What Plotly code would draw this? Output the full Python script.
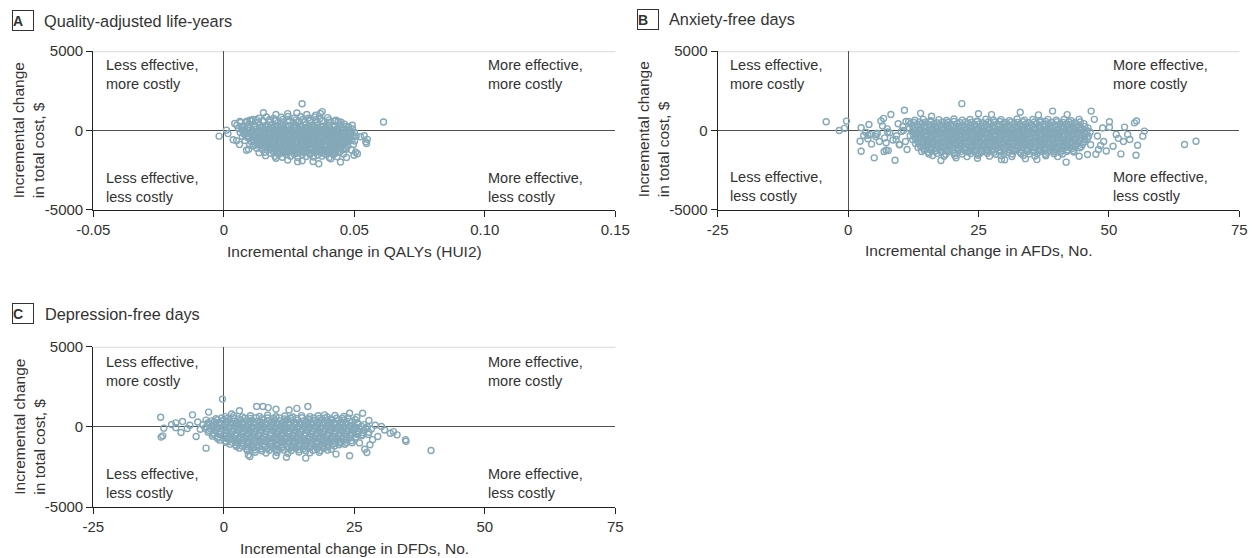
import plotly.graph_objects as go

# ---------------- data ----------------
# Panel A: incremental QALYs (HUI2) vs incremental total cost ($)
qaly_points = [
    (0.0300, 1680), (0.0152, 1120), (0.0377, 1190), (0.0370, 1070), (0.0318, 1010),
    (0.0612, 530), (-0.0018, -360), (0.0010, 20), (0.0036, -590), (0.0049, -650),
    (0.0016, -200), (0.0042, 440), (0.0064, 500), (0.0524, -400), (0.0538, -330),
    (0.0544, -720), (0.0550, -560), (0.0547, -820), (0.0492, 330), (0.0499, -1560),
    (0.0512, -1470), (0.0505, -1380), (0.0447, -1990), (0.0364, -2100), (0.0342, -1960),
    (0.0300, -1910), (0.0283, -1970), (0.0245, -1860), (0.0410, -1790), (0.0087, -1250),
    (0.0095, -1180), (0.0112, -980), (0.0060, -880), (0.0135, -1400), (0.0160, -1590),
    (0.0200, 1010), (0.0245, 1060), (0.0352, 960), (0.0280, 1100), (0.0438, 560),
    (0.0462, 400), (0.0478, 240), (0.0088, 590), (0.0112, 700), (0.0470, -1700),
    (0.0200, -1750),
    (0.0135, 780), (0.0163, 850), (0.0191, 750), (0.0220, 830), (0.0246, 880), (0.0271, 790),
    (0.0294, 860), (0.0323, 770), (0.0347, 840), (0.0369, 750), (0.0398, 810),
    (0.0062, 560), (0.0086, 500), (0.0107, 600), (0.0132, 520), (0.0151, 590), (0.0176, 530),
    (0.0196, 610), (0.0221, 540), (0.0244, 590), (0.0266, 500), (0.0287, 580), (0.0311, 530),
    (0.0332, 610), (0.0357, 520), (0.0377, 570), (0.0403, 500), (0.0424, 590), (0.0449, 520),
    (0.0050, 330), (0.0073, 270), (0.0094, 360), (0.0118, 300), (0.0139, 350), (0.0161, 280),
    (0.0181, 340), (0.0205, 300), (0.0227, 370), (0.0247, 280), (0.0271, 330), (0.0291, 290),
    (0.0315, 350), (0.0335, 280), (0.0359, 340), (0.0381, 270), (0.0401, 350), (0.0425, 300),
    (0.0445, 340), (0.0469, 260),
    (0.0056, 120), (0.0079, 50), (0.0099, 140), (0.0123, 80), (0.0143, 120), (0.0167, 40),
    (0.0187, 130), (0.0211, 70), (0.0231, 120), (0.0255, 50), (0.0275, 130), (0.0299, 80),
    (0.0319, 110), (0.0343, 50), (0.0363, 130), (0.0387, 60), (0.0407, 120), (0.0431, 50),
    (0.0451, 100), (0.0475, 30), (0.0493, 90),
    (0.0063, -130), (0.0085, -190), (0.0105, -110), (0.0129, -170), (0.0149, -120), (0.0173, -200),
    (0.0193, -130), (0.0217, -170), (0.0237, -100), (0.0261, -180), (0.0281, -130), (0.0305, -160),
    (0.0325, -110), (0.0349, -190), (0.0369, -130), (0.0393, -170), (0.0413, -120), (0.0437, -180),
    (0.0457, -130), (0.0481, -170), (0.0501, -140),
    (0.0071, -380), (0.0091, -440), (0.0115, -370), (0.0135, -420), (0.0159, -360), (0.0179, -440),
    (0.0203, -380), (0.0223, -420), (0.0247, -360), (0.0267, -430), (0.0291, -380), (0.0311, -410),
    (0.0335, -350), (0.0355, -440), (0.0379, -380), (0.0399, -420), (0.0423, -370), (0.0443, -430),
    (0.0467, -380), (0.0487, -420), (0.0507, -360),
    (0.0081, -630), (0.0105, -690), (0.0125, -620), (0.0149, -670), (0.0169, -600), (0.0193, -690),
    (0.0213, -630), (0.0237, -670), (0.0257, -610), (0.0281, -680), (0.0301, -630), (0.0325, -660),
    (0.0345, -600), (0.0369, -690), (0.0389, -630), (0.0413, -670), (0.0433, -620), (0.0457, -680),
    (0.0477, -630), (0.0501, -670),
    (0.0099, -880), (0.0121, -940), (0.0145, -870), (0.0165, -920), (0.0189, -850), (0.0209, -940),
    (0.0233, -880), (0.0253, -920), (0.0277, -860), (0.0297, -930), (0.0321, -880), (0.0341, -910),
    (0.0365, -850), (0.0385, -940), (0.0409, -880), (0.0429, -920), (0.0453, -870), (0.0473, -930),
    (0.0497, -880),
    (0.0126, -1130), (0.0147, -1190), (0.0172, -1120), (0.0193, -1170), (0.0218, -1100), (0.0239, -1190),
    (0.0264, -1130), (0.0285, -1170), (0.0310, -1110), (0.0331, -1180), (0.0356, -1130), (0.0377, -1160),
    (0.0402, -1100), (0.0423, -1190), (0.0448, -1130), (0.0469, -1170), (0.0489, -1230),
    (0.0156, -1380), (0.0179, -1440), (0.0206, -1370), (0.0229, -1420), (0.0256, -1350), (0.0279, -1440),
    (0.0306, -1380), (0.0329, -1420), (0.0356, -1360), (0.0379, -1430), (0.0406, -1380), (0.0429, -1420),
    (0.0459, -1480),
    (0.0196, -1630), (0.0224, -1690), (0.0256, -1620), (0.0284, -1700), (0.0316, -1640), (0.0344, -1680),
    (0.0376, -1620), (0.0404, -1700), (0.0434, -1660),
    (0.0120, 200), (0.0150, 230), (0.0180, 190), (0.0210, 210), (0.0240, 180), (0.0270, 220),
    (0.0300, 200), (0.0330, 170), (0.0360, 210), (0.0390, 180), (0.0420, 200),
    (0.0110, -20), (0.0140, -40), (0.0170, 0), (0.0200, -60), (0.0230, -20), (0.0260, -50),
    (0.0290, 0), (0.0320, -40), (0.0350, -10), (0.0380, -60), (0.0410, -30), (0.0440, 0),
    (0.0120, -280), (0.0150, -300), (0.0180, -250), (0.0210, -290), (0.0240, -270), (0.0270, -310),
    (0.0300, -260), (0.0330, -290), (0.0360, -250), (0.0390, -300), (0.0420, -270), (0.0450, -290),
    (0.0140, -520), (0.0170, -540), (0.0200, -500), (0.0230, -550), (0.0260, -510), (0.0290, -540),
    (0.0320, -500), (0.0350, -530), (0.0380, -520), (0.0410, -550), (0.0440, -500), (0.0470, -530),
    (0.0160, -770), (0.0190, -790), (0.0220, -750), (0.0250, -780), (0.0280, -760), (0.0310, -800),
    (0.0340, -760), (0.0370, -780), (0.0400, -750), (0.0430, -790), (0.0460, -770),
    (0.0180, -1020), (0.0210, -1040), (0.0240, -1000), (0.0270, -1030), (0.0300, -1010),
    (0.0330, -1050), (0.0360, -1000), (0.0390, -1030), (0.0420, -1020),
    (0.0210, -1270), (0.0240, -1290), (0.0270, -1250), (0.0300, -1280), (0.0330, -1260),
    (0.0360, -1300), (0.0390, -1270),
    (0.0100, 640), (0.0125, 680), (0.0150, 620), (0.0176, 690), (0.0201, 650), (0.0226, 700),
    (0.0252, 630), (0.0277, 670), (0.0302, 690), (0.0328, 640), (0.0353, 680), (0.0378, 620),
    (0.0404, 670), (0.0430, 640),
    (0.0068, 250), (0.0093, 230), (0.0119, 270), (0.0144, 240), (0.0170, 260), (0.0195, 220),
    (0.0221, 270), (0.0246, 240), (0.0272, 250), (0.0297, 230), (0.0323, 270), (0.0348, 240),
    (0.0374, 260), (0.0399, 230), (0.0425, 250), (0.0450, 220),
    (0.0070, 30), (0.0095, 10), (0.0121, 50), (0.0146, 20), (0.0172, 40), (0.0197, 0),
    (0.0223, 50), (0.0248, 20), (0.0274, 30), (0.0299, 10), (0.0325, 50), (0.0350, 20),
    (0.0376, 40), (0.0401, 0), (0.0427, 30), (0.0452, 10), (0.0478, -20),
    (0.0082, -90), (0.0108, -70), (0.0133, -110), (0.0159, -80), (0.0184, -100), (0.0210, -60),
    (0.0235, -110), (0.0261, -80), (0.0286, -90), (0.0312, -70), (0.0337, -110), (0.0363, -80),
    (0.0388, -100), (0.0414, -60), (0.0439, -90), (0.0465, -70), (0.0490, -110),
    (0.0077, -210), (0.0102, -230), (0.0128, -190), (0.0153, -220), (0.0179, -200), (0.0204, -240),
    (0.0230, -190), (0.0255, -220), (0.0281, -210), (0.0306, -230), (0.0332, -190), (0.0357, -220),
    (0.0383, -200), (0.0408, -240), (0.0434, -210), (0.0459, -230), (0.0485, -190),
    (0.0090, -340), (0.0116, -320), (0.0141, -360), (0.0167, -330), (0.0192, -350), (0.0218, -310),
    (0.0243, -360), (0.0269, -330), (0.0294, -340), (0.0320, -320), (0.0345, -360), (0.0371, -330),
    (0.0396, -350), (0.0422, -310), (0.0447, -340), (0.0473, -320), (0.0496, -360),
    (0.0098, -460), (0.0124, -480), (0.0149, -440), (0.0175, -470), (0.0200, -450), (0.0226, -490),
    (0.0251, -440), (0.0277, -470), (0.0302, -460), (0.0328, -480), (0.0353, -440), (0.0379, -470),
    (0.0404, -450), (0.0430, -490), (0.0455, -460), (0.0481, -480),
    (0.0110, -590), (0.0136, -570), (0.0161, -610), (0.0187, -580), (0.0212, -600), (0.0238, -560),
    (0.0263, -610), (0.0289, -580), (0.0314, -590), (0.0340, -570), (0.0365, -610), (0.0391, -580),
    (0.0416, -600), (0.0442, -560), (0.0467, -590), (0.0490, -610),
    (0.0118, -710), (0.0144, -730), (0.0169, -690), (0.0195, -720), (0.0220, -700), (0.0246, -740),
    (0.0271, -690), (0.0297, -720), (0.0322, -710), (0.0348, -730), (0.0373, -690), (0.0399, -720),
    (0.0424, -700), (0.0450, -740), (0.0475, -710),
    (0.0130, -840), (0.0156, -820), (0.0181, -860), (0.0207, -830), (0.0232, -850), (0.0258, -810),
    (0.0283, -860), (0.0309, -830), (0.0334, -840), (0.0360, -820), (0.0385, -860), (0.0411, -830),
    (0.0436, -850), (0.0462, -810),
    (0.0142, -960), (0.0168, -980), (0.0193, -940), (0.0219, -970), (0.0244, -950), (0.0270, -990),
    (0.0295, -940), (0.0321, -970), (0.0346, -960), (0.0372, -980), (0.0397, -940), (0.0423, -970),
    (0.0448, -950), (0.0474, -990),
    (0.0160, -1090), (0.0186, -1070), (0.0211, -1110), (0.0237, -1080), (0.0262, -1100),
    (0.0288, -1060), (0.0313, -1110), (0.0339, -1080), (0.0364, -1090), (0.0390, -1070),
    (0.0415, -1110), (0.0441, -1080), (0.0466, -1100),
    (0.0175, -1210), (0.0200, -1230), (0.0226, -1190), (0.0251, -1220), (0.0277, -1200),
    (0.0302, -1240), (0.0328, -1190), (0.0353, -1220), (0.0379, -1210), (0.0404, -1230),
    (0.0430, -1190), (0.0455, -1220),
    (0.0190, -1340), (0.0216, -1320), (0.0241, -1360), (0.0267, -1330), (0.0292, -1350),
    (0.0318, -1310), (0.0343, -1360), (0.0369, -1330), (0.0394, -1340), (0.0420, -1320),
    (0.0445, -1360),
    (0.0210, -1520), (0.0240, -1540), (0.0270, -1500), (0.0300, -1530), (0.0330, -1510),
    (0.0360, -1550), (0.0390, -1500), (0.0420, -1530),
]

# Panel B: incremental anxiety-free days vs incremental total cost ($)
afd_points = [
    (-4.2, 550), (-1.7, 0), (-0.7, 130), (-0.3, 590), (2.5, 170), (2.3, -680), (2.5, -1310),
    (3.0, -320), (3.4, -120), (3.8, -520), (4.2, -250), (4.5, -860), (5.0, -1730), (5.3, -380),
    (5.6, -180), (6.0, -700), (6.3, 600), (6.6, 280), (6.9, -1330), (7.3, -1250), (7.7, -1270),
    (7.0, -470), (7.5, 100), (8.2, 1010), (8.0, -150), (8.6, -600), (9.0, -1880), (9.3, -330),
    (9.6, 420), (9.9, -900), (10.2, -60), (10.5, 250), (10.8, 1270), (11.0, -700), (11.3, -1200),
    (11.6, 560), (4.0, 380), (6.8, 760), (3.8, -300), (5.4, -250), (7.3, -780), (7.6, -100),
    (9.2, -570), (9.8, -890), (10.6, 0), (11.1, 560),
    (46.6, 1220), (47.2, 700), (50.1, 545), (54.9, 480), (55.3, 600), (56.8, -40), (56.5, -360),
    (52.3, -1480), (55.2, -1560), (55.5, -930), (54.0, -570), (64.5, -890), (66.7, -680),
    (51.4, -250), (53.0, 210), (50.1, 200), (44.3, -1630), (45.9, -1520), (48.0, -1200),
    (49.0, -700), (47.8, -350), (48.8, 150), (50.8, -1000), (52.8, -700), (47.5, -1500),
    (49.5, -1300), (53.6, -250), (46.5, -900), (48.4, -950), (51.8, -500),
    (41.8, -2000), (36.2, -1840), (29.4, -1840), (30.0, -1850), (20.7, -1730), (17.8, -1900),
    (21.8, 1690), (39.2, 1220), (25.0, 1050), (13.9, 1080), (27.5, 1000), (33.0, 1150),
    (36.5, 980), (42.0, 1000), (16.0, 900), (24.8, -1750), (34.0, -1780),
    (12.8, 640), (14.4, 700), (15.8, 610), (17.4, 680), (18.9, 630), (20.3, 720), (21.9, 650),
    (23.4, 690), (24.8, 600), (26.4, 710), (27.9, 640), (29.3, 680), (30.9, 620), (32.4, 720),
    (33.8, 650), (35.4, 690), (36.9, 610), (38.3, 700), (39.9, 640), (41.4, 690), (42.8, 620),
    (44.3, 700),
    (12.0, 420), (13.2, 370), (14.2, 440), (15.4, 380), (16.4, 410), (17.6, 360), (18.7, 430),
    (19.7, 390), (20.9, 420), (21.9, 350), (23.1, 440), (24.2, 380), (25.2, 410), (26.4, 370),
    (27.4, 430), (28.6, 390), (29.7, 420), (30.7, 360), (31.9, 440), (32.9, 380), (34.1, 410),
    (35.2, 370), (36.2, 430), (37.4, 390), (38.4, 420), (39.6, 360), (40.7, 440), (41.7, 380),
    (42.9, 410), (43.9, 370), (45.2, 430),
    (11.8, 130), (12.8, 180), (14.0, 110), (15.0, 170), (16.2, 140), (17.2, 190), (18.4, 120),
    (19.4, 160), (20.6, 130), (21.6, 180), (22.8, 100), (23.8, 170), (25.0, 140), (26.0, 190),
    (27.2, 120), (28.2, 160), (29.4, 130), (30.4, 180), (31.6, 110), (32.6, 170), (33.8, 140),
    (34.8, 190), (36.0, 120), (37.0, 160), (38.2, 130), (39.2, 180), (40.4, 110), (41.4, 170),
    (42.6, 140), (43.6, 190), (44.8, 120), (46.0, 160),
    (12.3, -80), (13.4, -130), (14.5, -60), (15.6, -120), (16.7, -90), (17.8, -140), (18.9, -70),
    (20.0, -110), (21.1, -80), (22.2, -130), (23.3, -50), (24.4, -120), (25.5, -90), (26.6, -140),
    (27.7, -70), (28.8, -110), (29.9, -80), (31.0, -130), (32.1, -60), (33.2, -120), (34.3, -90),
    (35.4, -140), (36.5, -70), (37.6, -110), (38.7, -80), (39.8, -130), (40.9, -60), (42.0, -120),
    (43.1, -90), (44.2, -140), (45.3, -70), (46.4, -110),
    (11.9, -330), (13.0, -380), (14.1, -310), (15.1, -370), (16.3, -340), (17.3, -390), (18.5, -320),
    (19.5, -360), (20.7, -330), (21.7, -380), (22.9, -300), (23.9, -370), (25.1, -340), (26.1, -390),
    (27.3, -320), (28.3, -360), (29.5, -330), (30.5, -380), (31.7, -310), (32.7, -370), (33.9, -340),
    (34.9, -390), (36.1, -320), (37.1, -360), (38.3, -330), (39.3, -380), (40.5, -310), (41.5, -370),
    (42.7, -340), (43.7, -390), (44.9, -320), (46.1, -360),
    (12.4, -580), (13.5, -630), (14.6, -560), (15.7, -620), (16.8, -590), (17.9, -640), (19.0, -570),
    (20.1, -610), (21.2, -580), (22.3, -630), (23.4, -550), (24.5, -620), (25.6, -590), (26.7, -640),
    (27.8, -570), (28.9, -610), (30.0, -580), (31.1, -630), (32.2, -560), (33.3, -620), (34.4, -590),
    (35.5, -640), (36.6, -570), (37.7, -610), (38.8, -580), (39.9, -630), (41.0, -560), (42.1, -620),
    (43.2, -590), (44.3, -640), (45.4, -570),
    (12.9, -830), (14.0, -880), (15.1, -810), (16.1, -870), (17.3, -840), (18.3, -890), (19.5, -820),
    (20.5, -860), (21.7, -830), (22.7, -880), (23.9, -800), (24.9, -870), (26.1, -840), (27.1, -890),
    (28.3, -820), (29.3, -860), (30.5, -830), (31.5, -880), (32.7, -810), (33.7, -870), (34.9, -840),
    (35.9, -890), (37.1, -820), (38.1, -860), (39.3, -830), (40.3, -880), (41.5, -810), (42.5, -870),
    (43.7, -840), (44.9, -890),
    (13.4, -1080), (14.5, -1130), (15.6, -1060), (16.7, -1120), (17.8, -1090), (18.9, -1140),
    (20.0, -1070), (21.1, -1110), (22.2, -1080), (23.3, -1130), (24.4, -1050), (25.5, -1120),
    (26.6, -1090), (27.7, -1140), (28.8, -1070), (29.9, -1110), (31.0, -1080), (32.1, -1130),
    (33.2, -1060), (34.3, -1120), (35.4, -1090), (36.5, -1140), (37.6, -1070), (38.7, -1110),
    (39.8, -1080), (40.9, -1130), (42.0, -1060), (43.1, -1120), (44.4, -1090),
    (14.1, -1330), (15.4, -1380), (16.6, -1310), (17.9, -1370), (19.2, -1340), (20.4, -1390),
    (21.7, -1320), (23.0, -1360), (24.2, -1330), (25.5, -1380), (26.8, -1310), (28.0, -1370),
    (29.3, -1340), (30.6, -1390), (31.8, -1320), (33.1, -1360), (34.4, -1330), (35.6, -1380),
    (36.9, -1310), (38.2, -1370), (39.4, -1340), (40.7, -1390), (42.0, -1320), (43.3, -1360),
    (16.2, -1580), (18.4, -1630), (20.5, -1600), (22.8, -1650), (24.9, -1570), (27.1, -1620),
    (29.3, -1590), (31.4, -1640), (33.6, -1580), (35.8, -1610), (37.9, -1600), (40.2, -1650),
    (14.6, 280), (16.8, 260), (19.0, 300), (21.2, 250), (23.4, 290), (25.6, 270), (27.8, 300),
    (30.0, 250), (32.2, 280), (34.4, 260), (36.6, 300), (38.8, 270), (41.0, 290), (43.2, 250),
    (13.6, 20), (15.8, 0), (18.0, 40), (20.2, -10), (22.4, 30), (24.6, 10), (26.8, 40),
    (29.0, -20), (31.2, 20), (33.4, 0), (35.6, 30), (37.8, -10), (40.0, 20), (42.2, 0), (44.4, 30),
    (13.0, -220), (15.2, -240), (17.4, -200), (19.6, -250), (21.8, -210), (24.0, -230), (26.2, -200),
    (28.4, -250), (30.6, -220), (32.8, -240), (35.0, -200), (37.2, -230), (39.4, -210), (41.6, -250),
    (43.8, -220),
    (13.5, -470), (15.7, -490), (17.9, -450), (20.1, -500), (22.3, -460), (24.5, -480), (26.7, -450),
    (28.9, -500), (31.1, -470), (33.3, -490), (35.5, -450), (37.7, -480), (39.9, -460), (42.1, -500),
    (44.3, -470),
    (14.0, -720), (16.2, -740), (18.4, -700), (20.6, -750), (22.8, -710), (25.0, -730), (27.2, -700),
    (29.4, -750), (31.6, -720), (33.8, -740), (36.0, -700), (38.2, -730), (40.4, -710), (42.6, -750),
    (15.0, -970), (17.2, -990), (19.4, -950), (21.6, -1000), (23.8, -960), (26.0, -980), (28.2, -950),
    (30.4, -1000), (32.6, -970), (34.8, -990), (37.0, -950), (39.2, -980), (41.4, -960),
    (16.0, -1220), (18.6, -1240), (21.2, -1200), (23.8, -1250), (26.4, -1210), (29.0, -1230),
    (31.6, -1200), (34.2, -1250), (36.8, -1220), (39.4, -1240), (42.0, -1210),
    (12.6, 500), (13.7, 540), (14.8, 510), (15.9, 550), (17.0, 490), (18.1, 530), (19.2, 520),
    (20.3, 560), (21.4, 500), (22.5, 540), (23.6, 510), (24.7, 550), (25.8, 490), (26.9, 530),
    (28.0, 520), (29.1, 560), (30.2, 500), (31.3, 540), (32.4, 510), (33.5, 550), (34.6, 490),
    (35.7, 530), (36.8, 520), (37.9, 560), (39.0, 500), (40.1, 540), (41.2, 510), (42.3, 550),
    (43.4, 490), (44.5, 530),
    (12.4, 240), (13.5, 270), (14.6, 230), (15.7, 260), (16.8, 220), (17.9, 250), (19.0, 240),
    (20.1, 280), (21.2, 230), (22.3, 260), (23.4, 220), (24.5, 270), (25.6, 240), (26.7, 250),
    (27.8, 230), (28.9, 270), (30.0, 220), (31.1, 260), (32.2, 240), (33.3, 280), (34.4, 230),
    (35.5, 250), (36.6, 220), (37.7, 270), (38.8, 240), (39.9, 260), (41.0, 230), (42.1, 280),
    (43.2, 220), (44.3, 250), (45.4, 240),
    (12.8, -10), (13.9, 20), (15.0, -30), (16.1, 10), (17.2, -20), (18.3, 30), (19.4, -10),
    (20.5, 0), (21.6, -30), (22.7, 20), (23.8, -20), (24.9, 10), (26.0, -10), (27.1, 30),
    (28.2, -30), (29.3, 0), (30.4, -10), (31.5, 20), (32.6, -20), (33.7, 10), (34.8, -30),
    (35.9, 30), (37.0, -10), (38.1, 0), (39.2, -20), (40.3, 20), (41.4, -30), (42.5, 10),
    (43.6, -10), (44.7, 30), (45.8, -20),
    (12.5, -260), (13.6, -230), (14.7, -280), (15.8, -250), (16.9, -270), (18.0, -240),
    (19.1, -260), (20.2, -220), (21.3, -280), (22.4, -250), (23.5, -270), (24.6, -230),
    (25.7, -260), (26.8, -240), (27.9, -280), (29.0, -250), (30.1, -270), (31.2, -220),
    (32.3, -260), (33.4, -240), (34.5, -280), (35.6, -250), (36.7, -270), (37.8, -230),
    (38.9, -260), (40.0, -240), (41.1, -280), (42.2, -250), (43.3, -270), (44.4, -230),
    (45.5, -260),
    (12.9, -510), (14.0, -480), (15.1, -530), (16.2, -500), (17.3, -520), (18.4, -490),
    (19.5, -510), (20.6, -470), (21.7, -530), (22.8, -500), (23.9, -520), (25.0, -480),
    (26.1, -510), (27.2, -490), (28.3, -530), (29.4, -500), (30.5, -520), (31.6, -470),
    (32.7, -510), (33.8, -490), (34.9, -530), (36.0, -500), (37.1, -520), (38.2, -480),
    (39.3, -510), (40.4, -490), (41.5, -530), (42.6, -500), (43.7, -520), (44.8, -480),
    (45.9, -510),
    (13.4, -760), (14.5, -730), (15.6, -780), (16.7, -750), (17.8, -770), (18.9, -740),
    (20.0, -760), (21.1, -720), (22.2, -780), (23.3, -750), (24.4, -770), (25.5, -730),
    (26.6, -760), (27.7, -740), (28.8, -780), (29.9, -750), (31.0, -770), (32.1, -720),
    (33.2, -760), (34.3, -740), (35.4, -780), (36.5, -750), (37.6, -770), (38.7, -730),
    (39.8, -760), (40.9, -740), (42.0, -780), (43.1, -750), (44.2, -770), (45.3, -730),
    (13.9, -1010), (15.0, -980), (16.1, -1030), (17.2, -1000), (18.3, -1020), (19.4, -990),
    (20.5, -1010), (21.6, -970), (22.7, -1030), (23.8, -1000), (24.9, -1020), (26.0, -980),
    (27.1, -1010), (28.2, -990), (29.3, -1030), (30.4, -1000), (31.5, -1020), (32.6, -970),
    (33.7, -1010), (34.8, -990), (35.9, -1030), (37.0, -1000), (38.1, -1020), (39.2, -980),
    (40.3, -1010), (41.4, -990), (42.5, -1030), (43.6, -1000), (44.7, -1020),
    (14.6, -1250), (15.7, -1220), (16.8, -1270), (17.9, -1240), (19.0, -1260), (20.1, -1230),
    (21.2, -1250), (22.3, -1210), (23.4, -1270), (24.5, -1240), (25.6, -1260), (26.7, -1220),
    (27.8, -1250), (28.9, -1230), (30.0, -1270), (31.1, -1240), (32.2, -1260), (33.3, -1210),
    (34.4, -1250), (35.5, -1230), (36.6, -1270), (37.7, -1240), (38.8, -1260), (39.9, -1220),
    (41.0, -1250), (42.1, -1230), (43.2, -1270),
    (15.5, -1480), (17.1, -1450), (18.7, -1500), (20.3, -1470), (21.9, -1490), (23.5, -1460),
    (25.1, -1480), (26.7, -1440), (28.3, -1500), (29.9, -1470), (31.5, -1490), (33.1, -1450),
    (34.7, -1480), (36.3, -1460), (37.9, -1500), (39.5, -1470), (41.1, -1490),
]

# Panel C: incremental depression-free days vs incremental total cost ($)
dfd_points = [
    (-0.25, 1730), (-12.1, 600), (-11.5, -80), (-12.0, -640), (-11.7, -560), (-9.2, 250),
    (-9.2, -50), (-7.9, 330), (-8.2, -350), (-6.0, 750), (-5.3, -600), (-3.4, -1330),
    (-2.9, 920), (-6.5, 100), (-5.0, 300), (-4.5, -150), (-7.0, -100), (-10.0, 150),
    (39.7, -1480), (34.8, -800), (34.9, -900), (33.2, -500), (31.9, -400), (30.2, 20),
    (26.6, 850), (24.1, 850), (28.0, -1120), (27.4, -1600), (27.0, -1400), (28.5, -800),
    (29.5, -600), (30.8, -200), (32.5, -300), (29.0, 100), (27.8, 400), (25.5, 600),
    (26.0, -1000), (24.1, -1800), (15.7, -1950), (4.7, -1750), (5.0, -1850), (6.3, 1270),
    (7.5, 1270), (8.5, 1200), (16.1, 1270), (19.3, 750), (10.0, 1100), (12.5, 1050),
    (14.0, 1150), (3.0, 1000), (1.5, 800), (21.5, -1700), (10.0, -1800), (12.0, -1900),
    (0.3, 640), (1.9, 700), (3.6, 620), (5.1, 690), (6.8, 650), (8.4, 720), (10.0, 630),
    (11.7, 680), (13.2, 610), (14.9, 700), (16.5, 640), (18.1, 690), (19.8, 620), (21.3, 710),
    (23.0, 650),
    (-3.4, 420), (-2.3, 370), (-1.2, 440), (-0.1, 380), (1.0, 410), (2.1, 360), (3.2, 430),
    (4.3, 390), (5.4, 420), (6.5, 350), (7.6, 440), (8.7, 380), (9.8, 410), (10.9, 370),
    (12.0, 430), (13.1, 390), (14.2, 420), (15.3, 360), (16.4, 440), (17.5, 380), (18.6, 410),
    (19.7, 370), (20.8, 430), (21.9, 390), (23.0, 420), (24.1, 360), (25.2, 440),
    (-4.0, 130), (-2.9, 180), (-1.8, 110), (-0.7, 170), (0.4, 140), (1.5, 190), (2.6, 120),
    (3.7, 160), (4.8, 130), (5.9, 180), (7.0, 100), (8.1, 170), (9.2, 140), (10.3, 190),
    (11.4, 120), (12.5, 160), (13.6, 130), (14.7, 180), (15.8, 110), (16.9, 170), (18.0, 140),
    (19.1, 190), (20.2, 120), (21.3, 160), (22.4, 130), (23.5, 180), (24.6, 110), (25.7, 170),
    (26.8, 140),
    (-3.6, -80), (-2.5, -130), (-1.4, -60), (-0.3, -120), (0.8, -90), (1.9, -140), (3.0, -70),
    (4.1, -110), (5.2, -80), (6.3, -130), (7.4, -50), (8.5, -120), (9.6, -90), (10.7, -140),
    (11.8, -70), (12.9, -110), (14.0, -80), (15.1, -130), (16.2, -60), (17.3, -120), (18.4, -90),
    (19.5, -140), (20.6, -70), (21.7, -110), (22.8, -80), (23.9, -130), (25.0, -60), (26.1, -120),
    (27.2, -90), (28.3, -140),
    (-3.0, -330), (-1.9, -380), (-0.8, -310), (0.3, -370), (1.4, -340), (2.5, -390), (3.6, -320),
    (4.7, -360), (5.8, -330), (6.9, -380), (8.0, -300), (9.1, -370), (10.2, -340), (11.3, -390),
    (12.4, -320), (13.5, -360), (14.6, -330), (15.7, -380), (16.8, -310), (17.9, -370), (19.0, -340),
    (20.1, -390), (21.2, -320), (22.3, -360), (23.4, -330), (24.5, -380), (25.6, -310), (26.7, -370),
    (27.8, -340),
    (-2.2, -580), (-1.1, -630), (0.0, -560), (1.1, -620), (2.2, -590), (3.3, -640), (4.4, -570),
    (5.5, -610), (6.6, -580), (7.7, -630), (8.8, -550), (9.9, -620), (11.0, -590), (12.1, -640),
    (13.2, -570), (14.3, -610), (15.4, -580), (16.5, -630), (17.6, -560), (18.7, -620), (19.8, -590),
    (20.9, -640), (22.0, -570), (23.1, -610), (24.2, -580), (25.3, -630), (26.4, -560),
    (-0.8, -830), (0.3, -880), (1.4, -810), (2.5, -870), (3.6, -840), (4.7, -890), (5.8, -820),
    (6.9, -860), (8.0, -830), (9.1, -880), (10.2, -800), (11.3, -870), (12.4, -840), (13.5, -890),
    (14.6, -820), (15.7, -860), (16.8, -830), (17.9, -880), (19.0, -810), (20.1, -870), (21.2, -840),
    (22.3, -890), (23.4, -820), (24.5, -860),
    (1.2, -1080), (2.3, -1130), (3.4, -1060), (4.5, -1120), (5.6, -1090), (6.7, -1140), (7.8, -1070),
    (8.9, -1110), (10.0, -1080), (11.1, -1130), (12.2, -1050), (13.3, -1120), (14.4, -1090),
    (15.5, -1140), (16.6, -1070), (17.7, -1110), (18.8, -1080), (19.9, -1130), (21.0, -1060),
    (22.1, -1120), (23.2, -1090),
    (3.0, -1330), (4.4, -1380), (5.7, -1310), (7.1, -1370), (8.4, -1340), (9.8, -1390), (11.1, -1320),
    (12.5, -1360), (13.8, -1330), (15.2, -1380), (16.5, -1310), (17.9, -1370), (19.2, -1340),
    (20.6, -1390),
    (6.0, -1580), (8.1, -1630), (10.2, -1600), (12.3, -1650), (14.4, -1570), (16.5, -1620),
    (18.3, -1590),
    (-1.5, 270), (0.7, 290), (2.9, 250), (5.1, 280), (7.3, 260), (9.5, 300), (11.7, 270),
    (13.9, 250), (16.1, 290), (18.3, 260), (20.5, 280), (22.7, 250),
    (-2.0, 20), (0.2, 0), (2.4, 40), (4.6, -10), (6.8, 30), (9.0, 10), (11.2, 40), (13.4, -20),
    (15.6, 20), (17.8, 0), (20.0, 30), (22.2, -10), (24.4, 20),
    (-1.6, -220), (0.6, -240), (2.8, -200), (5.0, -250), (7.2, -210), (9.4, -230), (11.6, -200),
    (13.8, -250), (16.0, -220), (18.2, -240), (20.4, -200), (22.6, -230), (24.8, -210),
    (-0.8, -470), (1.4, -490), (3.6, -450), (5.8, -500), (8.0, -460), (10.2, -480), (12.4, -450),
    (14.6, -500), (16.8, -470), (19.0, -490), (21.2, -450), (23.4, -480), (25.6, -460),
    (0.6, -720), (2.8, -740), (5.0, -700), (7.2, -750), (9.4, -710), (11.6, -730), (13.8, -700),
    (16.0, -750), (18.2, -720), (20.4, -740), (22.6, -700),
    (2.4, -970), (4.6, -990), (6.8, -950), (9.0, -1000), (11.2, -960), (13.4, -980), (15.6, -950),
    (17.8, -1000), (20.0, -970), (22.2, -990),
    (5.2, -1220), (7.8, -1240), (10.4, -1200), (13.0, -1250), (15.6, -1210), (18.2, -1230),
    (-1.5, 510), (-0.4, 550), (0.7, 520), (1.8, 560), (2.9, 500), (4.0, 540), (5.1, 530),
    (6.2, 570), (7.3, 510), (8.4, 550), (9.5, 520), (10.6, 560), (11.7, 500), (12.8, 540),
    (13.9, 530), (15.0, 570), (16.1, 510), (17.2, 550), (18.3, 520), (19.4, 560), (20.5, 500),
    (21.6, 540), (22.7, 530), (23.8, 560),
    (-3.0, 260), (-1.9, 290), (-0.8, 250), (0.3, 280), (1.4, 240), (2.5, 270), (3.6, 260),
    (4.7, 300), (5.8, 250), (6.9, 280), (8.0, 240), (9.1, 290), (10.2, 260), (11.3, 270),
    (12.4, 250), (13.5, 290), (14.6, 240), (15.7, 280), (16.8, 260), (17.9, 300), (19.0, 250),
    (20.1, 270), (21.2, 240), (22.3, 290), (23.4, 260), (24.5, 280), (25.6, 250),
    (-3.3, 0), (-2.2, 30), (-1.1, -20), (0.0, 20), (1.1, -10), (2.2, 40), (3.3, 0), (4.4, 10),
    (5.5, -20), (6.6, 30), (7.7, -10), (8.8, 20), (9.9, 0), (11.0, 40), (12.1, -20), (13.2, 10),
    (14.3, 0), (15.4, 30), (16.5, -10), (17.6, 20), (18.7, -20), (19.8, 40), (20.9, 0),
    (22.0, 10), (23.1, -10), (24.2, 30), (25.3, -20), (26.4, 20), (27.5, 0),
    (-2.8, -230), (-1.7, -200), (-0.6, -250), (0.5, -220), (1.6, -240), (2.7, -210), (3.8, -230),
    (4.9, -190), (6.0, -250), (7.1, -220), (8.2, -240), (9.3, -200), (10.4, -230), (11.5, -210),
    (12.6, -250), (13.7, -220), (14.8, -240), (15.9, -190), (17.0, -230), (18.1, -210),
    (19.2, -250), (20.3, -220), (21.4, -240), (22.5, -200), (23.6, -230), (24.7, -210),
    (25.8, -250), (26.9, -220),
    (-2.0, -480), (-0.9, -450), (0.2, -500), (1.3, -470), (2.4, -490), (3.5, -460), (4.6, -480),
    (5.7, -440), (6.8, -500), (7.9, -470), (9.0, -490), (10.1, -450), (11.2, -480), (12.3, -460),
    (13.4, -500), (14.5, -470), (15.6, -490), (16.7, -440), (17.8, -480), (18.9, -460),
    (20.0, -500), (21.1, -470), (22.2, -490), (23.3, -450), (24.4, -480), (25.5, -460),
    (26.6, -500), (27.7, -470),
    (-1.2, -730), (-0.1, -700), (1.0, -750), (2.1, -720), (3.2, -740), (4.3, -710), (5.4, -730),
    (6.5, -690), (7.6, -750), (8.7, -720), (9.8, -740), (10.9, -700), (12.0, -730), (13.1, -710),
    (14.2, -750), (15.3, -720), (16.4, -740), (17.5, -690), (18.6, -730), (19.7, -710),
    (20.8, -750), (21.9, -720), (23.0, -740), (24.1, -700), (25.2, -730),
    (0.4, -980), (1.5, -950), (2.6, -1000), (3.7, -970), (4.8, -990), (5.9, -960), (7.0, -980),
    (8.1, -940), (9.2, -1000), (10.3, -970), (11.4, -990), (12.5, -950), (13.6, -980),
    (14.7, -960), (15.8, -1000), (16.9, -970), (18.0, -990), (19.1, -940), (20.2, -980),
    (21.3, -960), (22.4, -1000), (23.5, -970), (24.6, -990),
    (2.4, -1230), (3.5, -1200), (4.6, -1250), (5.7, -1220), (6.8, -1240), (7.9, -1210),
    (9.0, -1230), (10.1, -1190), (11.2, -1250), (12.3, -1220), (13.4, -1240), (14.5, -1200),
    (15.6, -1230), (16.7, -1210), (17.8, -1250), (18.9, -1220), (20.0, -1240), (21.2, -1200),
    (4.5, -1470), (5.9, -1440), (7.3, -1490), (8.7, -1460), (10.1, -1480), (11.5, -1450),
    (12.9, -1470), (14.3, -1430), (15.7, -1490), (17.1, -1460), (18.5, -1480), (19.9, -1450),
]

a_qaly = [p[0] for p in qaly_points]
a_cost = [p[1] for p in qaly_points]
b_afd = [p[0] for p in afd_points]
b_cost = [p[1] for p in afd_points]
c_dfd = [p[0] for p in dfd_points]
c_cost = [p[1] for p in dfd_points]

cost_ticks = [-5000, 0, 5000]
cost_labels = ["-5000", "0", "5000"]
qaly_ticks = [-0.05, 0, 0.05, 0.10, 0.15]
qaly_labels = ["-0.05", "0", "0.05", "0.10", "0.15"]
days_ticks = [-25, 0, 25, 50, 75]
days_labels = ["-25", "0", "25", "50", "75"]

panel_titles = ["Quality-adjusted life-years", "Anxiety-free days", "Depression-free days"]
x_titles = ["Incremental change in QALYs (HUI2)", "Incremental change in AFDs, No.",
            "Incremental change in DFDs, No."]
y_title = "Incremental change<br>in total cost, $"

# ---------------- styling ----------------
W, H = 1256, 558
FONT = "Liberation Sans, Arial, sans-serif"
TXT = "#333333"
MC = "#84a8b7"


def fx(px):
    return px / W


def fy(py):
    return 1 - py / H


fig = go.Figure()

marker = dict(symbol="circle-open", size=6, color=MC, line=dict(width=1.4, color=MC))
fig.add_trace(go.Scatter(x=a_qaly, y=a_cost, mode="markers", marker=marker, xaxis="x", yaxis="y",
                         showlegend=False, hoverinfo="skip"))
fig.add_trace(go.Scatter(x=b_afd, y=b_cost, mode="markers", marker=marker, xaxis="x2", yaxis="y2",
                         showlegend=False, hoverinfo="skip"))
fig.add_trace(go.Scatter(x=c_dfd, y=c_cost, mode="markers", marker=marker, xaxis="x3", yaxis="y3",
                         showlegend=False, hoverinfo="skip"))

tickfont = dict(family=FONT, size=15, color=TXT)


def xax(domain, rng, tv, tt, anchor):
    return dict(domain=domain, range=rng, tickvals=tv, ticktext=tt, anchor=anchor,
                showline=True, linecolor="#222222", linewidth=1.2, ticks="outside", ticklen=6,
                tickwidth=1.2, tickcolor="#222222", zeroline=True, zerolinecolor="#505050",
                zerolinewidth=1.4, showgrid=False, tickfont=tickfont, fixedrange=True)


def yax(domain, anchor):
    return dict(domain=domain, range=[-5000, 5000], tickvals=cost_ticks, ticktext=cost_labels,
                anchor=anchor, showline=True, linecolor="#222222", linewidth=1.2, ticks="outside",
                ticklen=6, tickwidth=1.2, tickcolor="#222222", zeroline=True,
                zerolinecolor="#505050", zerolinewidth=1.4, showgrid=False, tickfont=tickfont,
                fixedrange=True)


xA = [fx(93.3), fx(615.3)]
xB = [fx(717.7), fx(1239.3)]
yTop = [fy(209.7), fy(51.2)]
yBot = [fy(507.0), fy(346.7)]

fig.update_layout(
    width=W, height=H, margin=dict(l=0, r=0, t=0, b=0, autoexpand=False), autosize=False,
    paper_bgcolor="white", plot_bgcolor="white",
    xaxis=xax(xA, [-0.05, 0.15], qaly_ticks, qaly_labels, "y"),
    yaxis=yax(yTop, "x"),
    xaxis2=xax(xB, [-25, 75], days_ticks, days_labels, "y2"),
    yaxis2=yax(yTop, "x2"),
    xaxis3=xax(xA, [-25, 75], days_ticks, days_labels, "y3"),
    yaxis3=yax(yBot, "x3"),
)

# light top border line at +5000
for xr, yr in [("x", "y"), ("x2", "y2"), ("x3", "y3")]:
    fig.add_shape(type="line", xref=xr + " domain", yref=yr, x0=0, x1=1, y0=5000, y1=5000,
                  line=dict(color="#d9d9d9", width=2), layer="below")

ann = []


def note(text, xp, yp, size=14.5, xanchor="left", yanchor="middle", angle=0, **kw):
    ann.append(dict(text=text, x=fx(xp), y=fy(yp), xref="paper", yref="paper",
                    xanchor=xanchor, yanchor=yanchor, showarrow=False, align="left",
                    textangle=angle, font=dict(family=FONT, size=size, color=TXT), **kw))


# panel labels + titles
for lab, cx, cy, tx, title in [("A", 23.3, 20.5, 42.3, panel_titles[0]),
                               ("B", 648.0, 19.2, 666.7, panel_titles[1]),
                               ("C", 23.3, 313.8, 43.3, panel_titles[2])]:
    note("<b>%s</b>" % lab, cx, cy, size=14, xanchor="center", bordercolor="#333333",
         borderwidth=1, borderpad=0, width=20, height=19)
    note(title, tx, cy, size=16.3)

# axis titles
note(x_titles[0], 354.3, 251.7, size=15.5, xanchor="center")
note(x_titles[1], 978.5, 250.0, size=15.5, xanchor="center")
note(x_titles[2], 354.3, 548.3, size=15.5, xanchor="center")
note(y_title, 28.7, 130.5, size=15.5, xanchor="center", angle=-90)
note(y_title, 653.8, 129.5, size=15.5, xanchor="center", angle=-90)
note(y_title, 28.7, 427.0, size=15.5, xanchor="center", angle=-90)

# quadrant labels
for lx, rx, ty, by in [(104.3, 486.0, 74.5, 187.5), (727.7, 1110.7, 74.0, 186.5),
                       (104.3, 486.0, 371.5, 483.7)]:
    note("Less effective,<br>more costly", lx, ty)
    note("Less effective,<br>less costly", lx, by)
    note("More effective,<br>more costly", rx, ty)
    note("More effective,<br>less costly", rx, by)

fig.update_layout(annotations=ann)
fig.write_html("out.html", config={"displayModeBar": False},
               post_script="document.body.style.margin='0';document.body.style.padding='0';"
                           "document.body.style.overflow='hidden';")
